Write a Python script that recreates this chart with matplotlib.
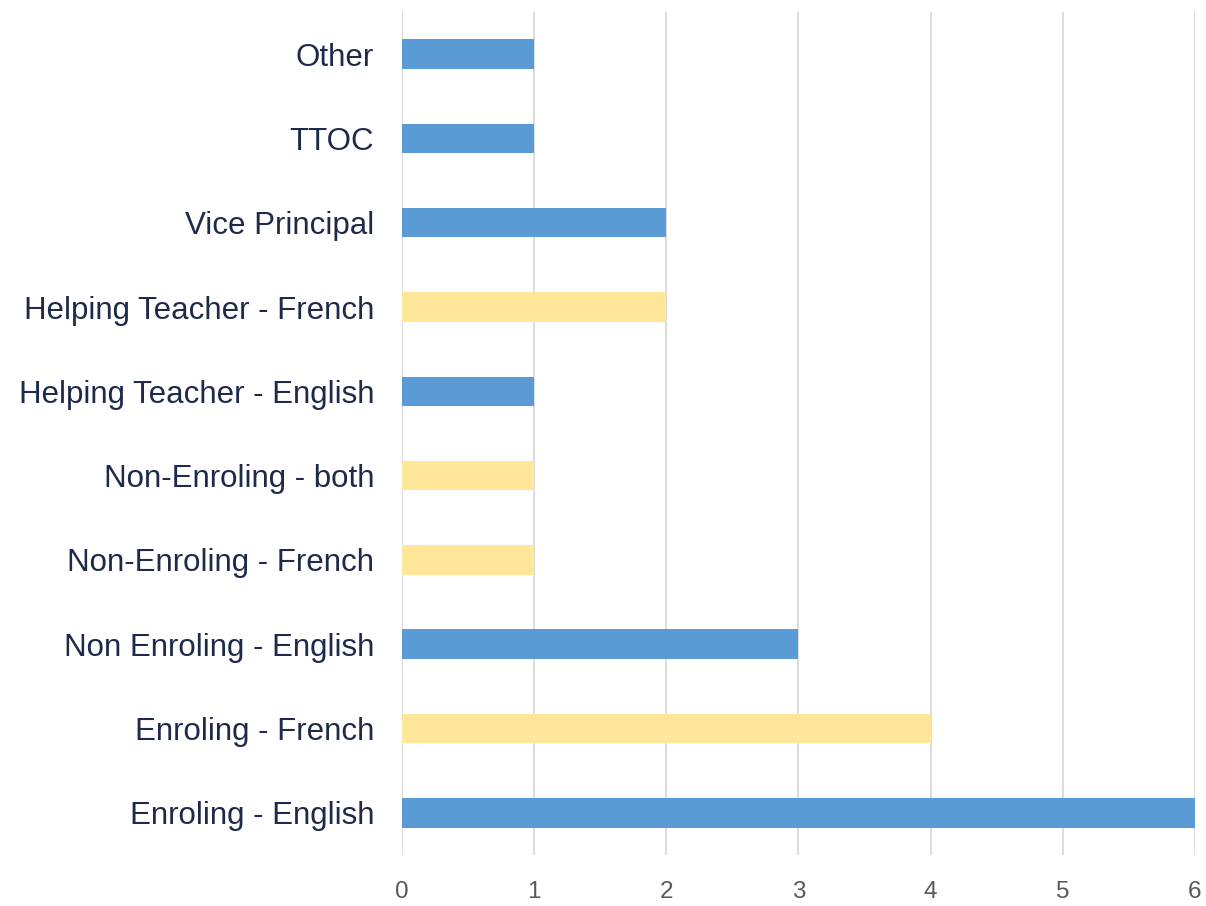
import matplotlib
matplotlib.use("Agg")
import matplotlib.pyplot as plt

# categories bottom to top
roles = ["Enroling - English", "Enroling - French", "Non Enroling - English",
         "Non-Enroling - French", "Non-Enroling - both", "Helping Teacher - English",
         "Helping Teacher - French", "Vice Principal", "TTOC", "Other"]
counts = [6, 4, 3, 1, 1, 1, 2, 2, 1, 1]
is_french = [False, True, False, True, True, False, True, False, False, False]

blue = "#5b9bd5"
yellow = "#ffe699"
colors = [yellow if f else blue for f in is_french]

plt.rcParams['font.family'] = ['Liberation Sans', 'DejaVu Sans']

fig = plt.figure(figsize=(12.06, 9.06), dpi=100)
ax = fig.add_axes([0.3333, 0.0563, 0.6575, 0.9305])

ax.barh(range(len(roles)), counts, height=0.35, color=colors, zorder=3)

ax.set_xlim(0, 6)
ax.set_ylim(-0.5, len(roles) - 0.5)
ax.set_xticks(range(7))
ax.set_yticks(range(len(roles)))
ax.set_yticklabels(roles, fontsize=22.5, color="#1f2a4a")
ax.tick_params(axis='x', labelsize=17.5, colors="#595959", length=0, pad=19)
ax.tick_params(axis='y', length=0, pad=20)
ax.grid(axis='x', color="#d9d9d9", linewidth=1.3, zorder=0)
for s in ax.spines.values():
    s.set_visible(False)

fig.savefig("out.png", dpi=100)
